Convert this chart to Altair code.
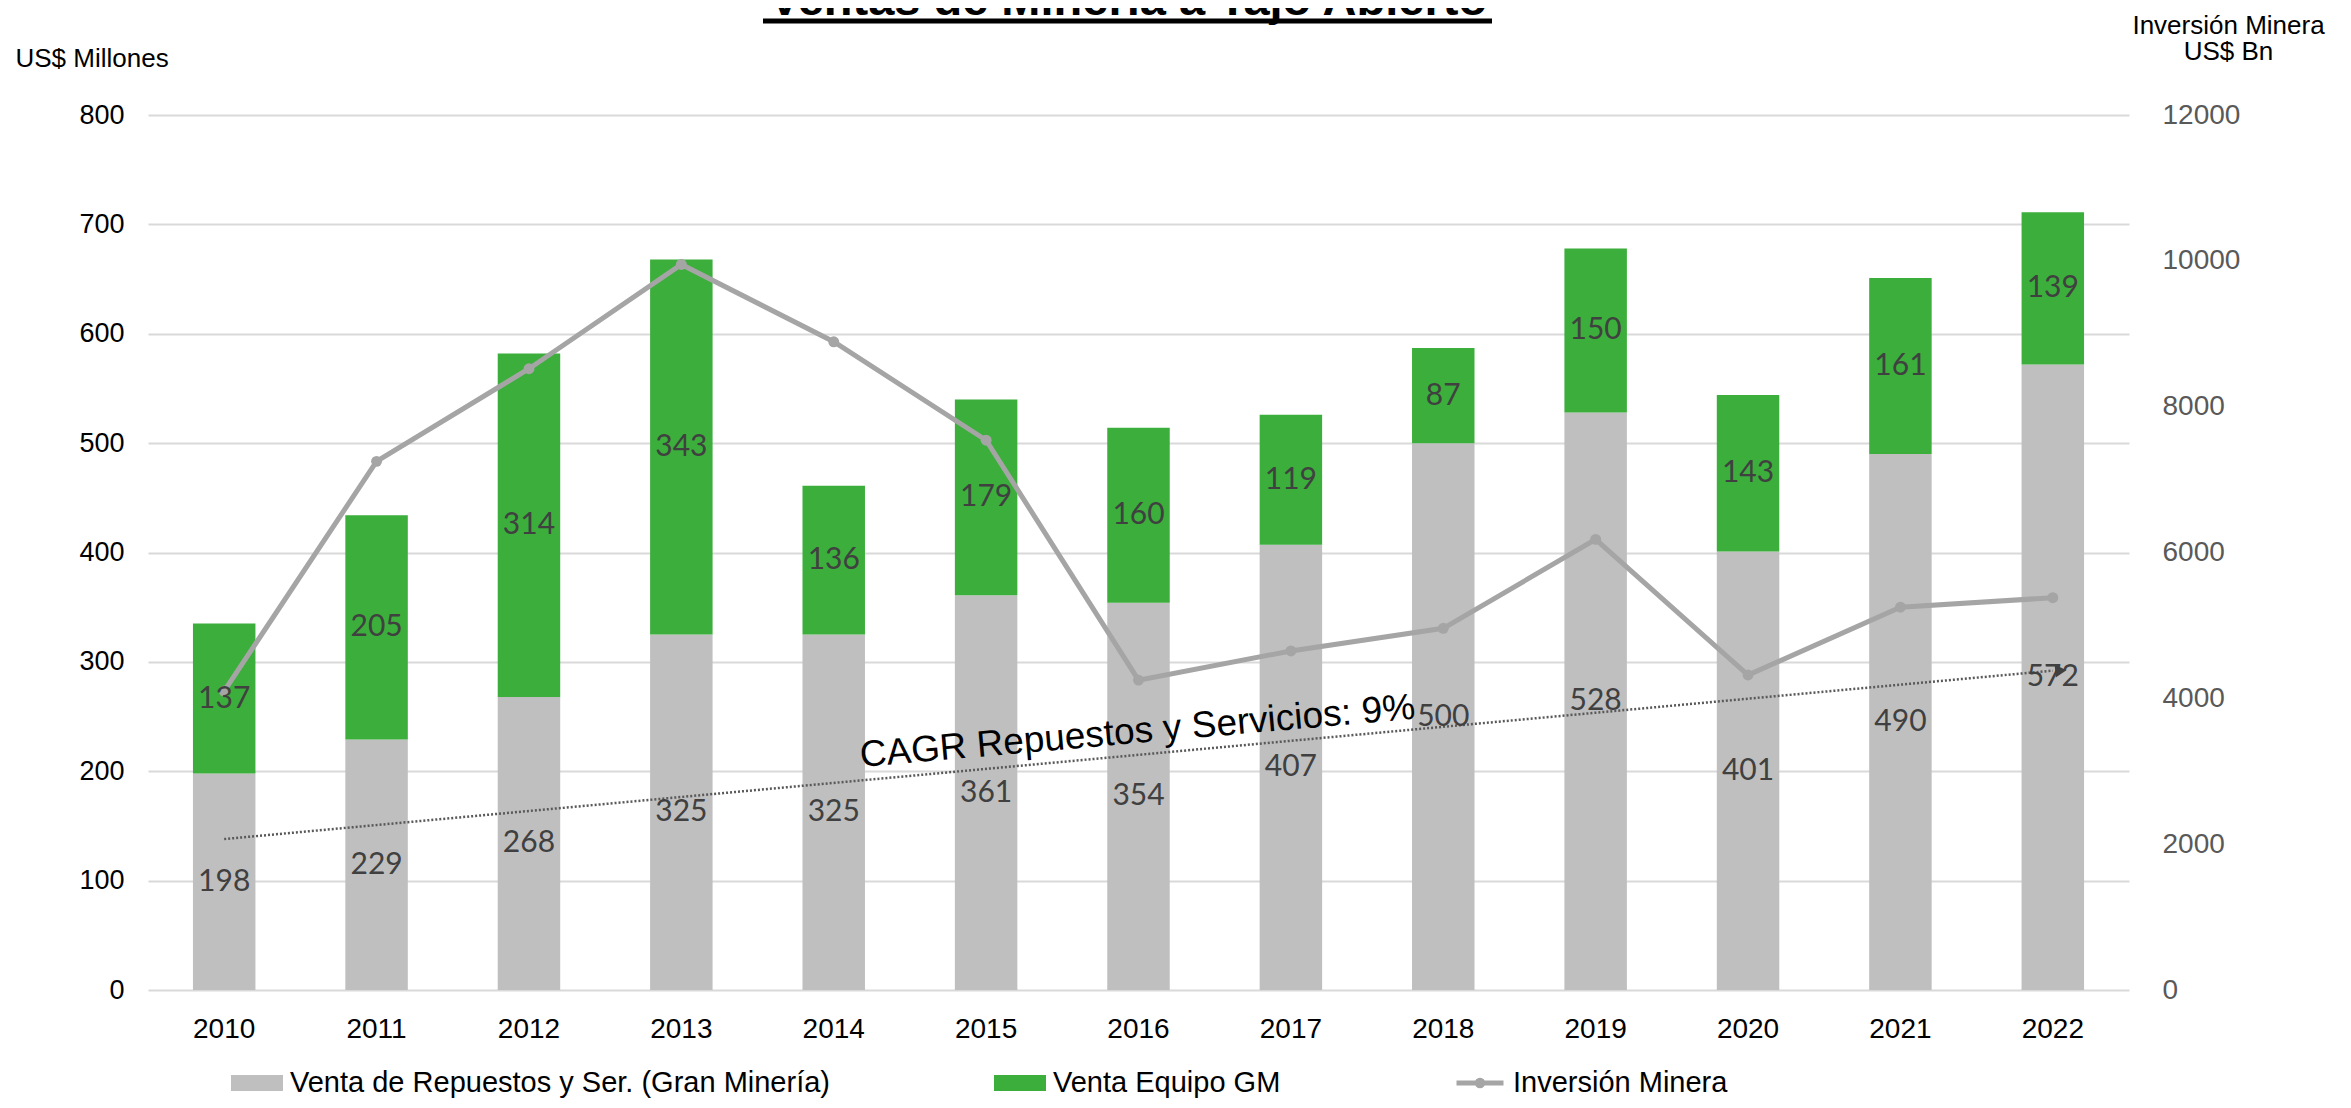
import altair as alt
import pandas as pd

# ---------------- data ----------------
years = ["2010", "2011", "2012", "2013", "2014", "2015", "2016",
         "2017", "2018", "2019", "2020", "2021", "2022"]
repuestos = [198, 229, 268, 325, 325, 361, 354, 407, 500, 528, 401, 490, 572]
equipo = [137, 205, 314, 343, 136, 179, 160, 119, 87, 150, 143, 161, 139]
inversion = [4100, 7250, 8520, 9950, 8890, 7540, 4250, 4650, 4960, 6180, 4320, 5250, 5380]

series_names = ["Venta de Repuestos y Ser. (Gran Minería)", "Venta Equipo GM"]
line_name = "Inversión Minera"

trend_years = ["2010", "2022"]
trend_values = [138, 292]

title_text = "Ventas de Minería a Tajo Abierto"
cagr_text = "CAGR Repuestos y Servicios: 9%"
cagr_year = ["2016"]
cagr_value = [226]

left_ticks = [0, 100, 200, 300, 400, 500, 600, 700, 800]
right_ticks = [0, 2000, 4000, 6000, 8000, 10000, 12000]

# ---------------- styles ----------------
GREY = "#BFBFBF"
GREEN = "#3BAE3B"
LINE_GREY = "#A5A5A5"
FONT = "Liberation Sans"
LABEL_FONT = "Lato"
W, H = 1981, 875

# ---------------- tables ----------------
rows = []
for i, y in enumerate(years):
    rows.append({"year": y, "series": series_names[0], "value": repuestos[i],
                 "ord": 0, "mid": repuestos[i] / 2})
    rows.append({"year": y, "series": series_names[1], "value": equipo[i],
                 "ord": 1, "mid": repuestos[i] + equipo[i] / 2})
bars_df = pd.DataFrame(rows)
line_df = pd.DataFrame({"year": years, "inv": inversion, "name": line_name})
trend_df = pd.DataFrame({"year": trend_years, "tv": trend_values})
cagr_df = pd.DataFrame({"year": cagr_year, "tv": cagr_value, "t": [cagr_text]})
title_df = pd.DataFrame({"t": [title_text]})

# ---------------- encodings ----------------
x_enc = alt.X(
    "year:N", sort=years,
    scale=alt.Scale(paddingInner=0.59, paddingOuter=0.295),
    axis=alt.Axis(title=None, labelFont=FONT, labelFontSize=28, labelColor="#000000",
                  labelPadding=25, ticks=False, tickSize=0, domain=False, labelAngle=0,
                  grid=False),
)

left_scale = alt.Scale(domain=[0, 800], nice=False, zero=True)
left_axis = alt.Axis(
    values=left_ticks, orient="left", title="US$ Millones", titleAngle=0,
    titleX=-133, titleY=-49, titleAlign="left", titleBaseline="alphabetic",
    titleFont=FONT, titleFontSize=26, titleFontWeight="normal", titleColor="#000000",
    labelFont=FONT, labelFontSize=27, labelColor="#000000", labelPadding=24,
    ticks=False, tickSize=0, domain=False, grid=True, gridColor="#D9D9D9", gridWidth=2,
)

right_scale = alt.Scale(domain=[0, 12000], nice=False, zero=True)
right_axis = alt.Axis(
    values=right_ticks, orient="right", title=["Inversión Minera", "US$ Bn"],
    titleAngle=0, titleX=99, titleY=-82, titleAlign="center", titleBaseline="alphabetic",
    titleFont=FONT, titleFontSize=26, titleFontWeight="normal", titleColor="#000000",
    titleLineHeight=26, format="d",
    labelFont=FONT, labelFontSize=28, labelColor="#595959", labelPadding=33,
    labelAlign="left", ticks=False, tickSize=0, domain=False, grid=False,
)

rect_path = "M-1,-0.3077L1,-0.3077L1,0.3077L-1,0.3077Z"
line_path = "M-1,0L1,0M0.12,0A0.12,0.12,0,1,1,-0.12,0A0.12,0.12,0,1,1,0.12,0"

# ---------------- layers ----------------
bars = alt.Chart(bars_df).mark_bar().encode(
    x=x_enc,
    y=alt.Y("value:Q", stack="zero", scale=left_scale, axis=left_axis),
    color=alt.Color(
        "series:N",
        scale=alt.Scale(domain=series_names, range=[GREY, GREEN]),
        legend=alt.Legend(
            title=None, orient="none", legendX=83, legendY=942, direction="horizontal",
            columns=2, columnPadding=164, symbolType=rect_path, symbolSize=2704,
            symbolStrokeWidth=0, symbolOpacity=1, labelFont=FONT, labelFontSize=29,
            labelColor="#000000", labelOffset=7, padding=0, labelLimit=1000, rowPadding=0,
        ),
    ),
    order=alt.Order("ord:Q"),
)

line = alt.Chart(line_df).mark_line(strokeWidth=5).encode(
    x=x_enc,
    y=alt.Y("inv:Q", scale=right_scale, axis=right_axis),
    stroke=alt.Stroke(
        "name:N",
        scale=alt.Scale(domain=[line_name], range=[LINE_GREY]),
        legend=alt.Legend(
            title=None, orient="none", legendX=1306, legendY=942, symbolType=line_path,
            symbolSize=2209, symbolStrokeWidth=5, symbolFillColor=LINE_GREY,
            labelFont=FONT, labelFontSize=29, labelColor="#000000", labelOffset=7,
            padding=0, labelLimit=1000,
        ),
    ),
)
points = alt.Chart(line_df).mark_point(filled=True, size=120, color=LINE_GREY, opacity=1).encode(
    x=x_enc,
    y=alt.Y("inv:Q", scale=right_scale, axis=right_axis),
)
right_layer = alt.layer(line, points)

ov_scale = alt.Scale(domain=[0, 800], nice=False, zero=True)

labels = alt.Chart(bars_df).mark_text(
    font=LABEL_FONT, fontSize=30, color="#404040", align="center", baseline="middle"
).encode(
    x=x_enc,
    y=alt.Y("mid:Q", scale=ov_scale, axis=None),
    text=alt.Text("value:Q"),
)

trend = alt.Chart(trend_df).mark_line(
    strokeDash=[2, 2], strokeWidth=2.5, color="#595959"
).encode(
    x=x_enc,
    y=alt.Y("tv:Q", scale=ov_scale, axis=None),
)
arrow = alt.Chart(trend_df.tail(1)).mark_point(
    shape="triangle-right", angle=355, filled=True, size=170, color="#404040",
    opacity=1, xOffset=8,
).encode(
    x=x_enc,
    y=alt.Y("tv:Q", scale=ov_scale, axis=None),
)
cagr = alt.Chart(cagr_df).mark_text(
    font=FONT, fontSize=37, color="#000000", align="center", baseline="alphabetic",
    angle=355,
).encode(
    x=x_enc,
    y=alt.Y("tv:Q", scale=ov_scale, axis=None),
    text="t:N",
)
title = alt.Chart(title_df).mark_text(
    font=FONT, fontSize=47, fontWeight="bold", color="#000000", align="center",
    baseline="alphabetic",
).encode(text="t:N", x=alt.value(980), y=alt.value(-100))
underline = alt.Chart(title_df).mark_rule(color="#000000", strokeWidth=5).encode(
    x=alt.value(615), x2=alt.value(1344), y=alt.value(-94)
)

overlay = alt.layer(trend, arrow, cagr, labels, title, underline)

chart = alt.layer(bars, right_layer, overlay).resolve_scale(
    y="independent"
).properties(
    width=W, height=H,
    autosize=alt.AutoSizeParams(type="none"),
    padding={"left": 140, "top": 107, "right": 210, "bottom": 108},
    background="white",
).configure_view(strokeWidth=0)

chart.save("out.html", embed_options={"renderer": "svg", "actions": False})
